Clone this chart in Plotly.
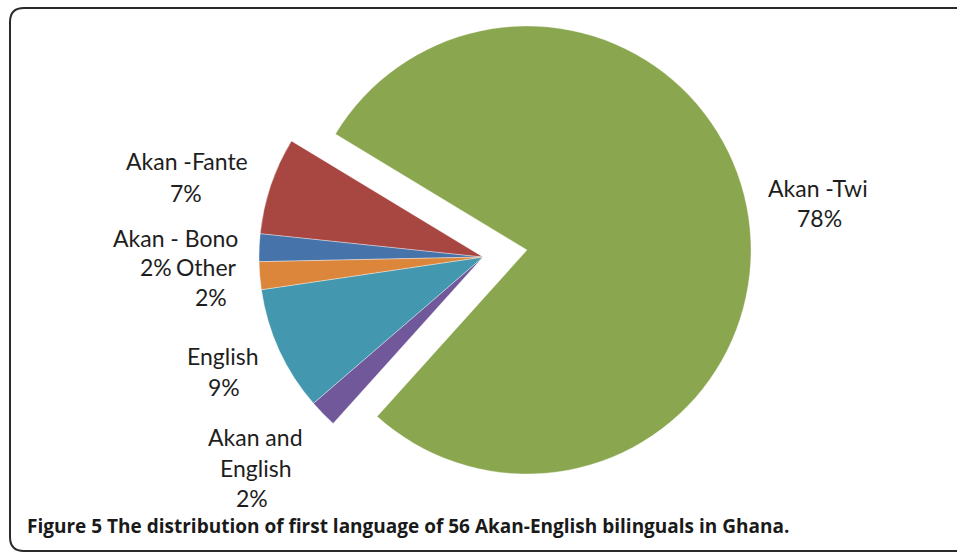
import plotly.graph_objects as go

# ---- data ----
categories = ["Akan - Bono", "Akan -Fante", "Akan -Twi", "Akan and English", "English", "Other"]
values = [2, 7, 78, 2, 9, 2]
colors = ["#4674AA", "#A84642", "#8AA64E", "#71589A", "#4398AF", "#DC863B"]
pulled = "Akan -Twi"

W, H = 957, 553
R = 224  # slice radius in px
ROT = -91.2  # first slice start (clockwise from 12 o'clock)


def px_dom(cx, cy, r):
    return dict(x=[(cx - r) / W, (cx + r) / W], y=[1 - (cy + r) / H, 1 - (cy - r) / H])


clear = "rgba(0,0,0,0)"
col_rest = [clear if c == pulled else col for c, col in zip(categories, colors)]
col_pull = [col if c == pulled else clear for c, col in zip(categories, colors)]
lw_rest = [0 if c == pulled else 0.6 for c in categories]
lw_pull = [0.6 if c == pulled else 0 for c in categories]

fig = go.Figure()
common = dict(labels=categories, values=values, sort=False, direction="clockwise",
              rotation=ROT, textinfo="none", showlegend=False, hoverinfo="label+percent")
fig.add_trace(go.Pie(**common, domain=px_dom(483, 257, R),
                     marker=dict(colors=col_rest, line=dict(color="rgba(255,255,255,0.6)", width=lw_rest))))
fig.add_trace(go.Pie(**common, domain=px_dom(527, 250, R),
                     marker=dict(colors=col_pull, line=dict(color="rgba(255,255,255,0.6)", width=lw_pull))))

# ---- labels ----
pct = {c: f"{v}%" for c, v in zip(categories, values)}
label_font = dict(family="Lato, Open Sans, sans-serif", size=23, color="#1e1e1e")


def ann(text, x, y):
    fig.add_annotation(text=text, x=x / W, y=1 - y / H, xref="paper", yref="paper",
                       showarrow=False, xanchor="center", yanchor="middle", font=label_font)


ann(categories[2], 818, 188)
ann(pct[categories[2]], 819, 218)
ann(categories[1], 187, 161)
ann(pct[categories[1]], 186, 193)
ann(categories[0], 175, 238)
ann(pct[categories[0]], 156, 267)
ann(categories[5], 206, 267)
ann(pct[categories[5]], 211, 297)
ann(categories[4], 223, 356)
ann(pct[categories[4]], 224, 387)
ann("Akan and", 255, 437)
ann("English", 256, 468)
ann(pct[categories[3]], 252, 498)

# ---- caption ----
fig.add_annotation(
    text="<b>Figure 5</b> <b>The distribution of first language of 56 Akan-English bilinguals in Ghana.</b>",
    x=25 / W, y=1 - 526 / H, xref="paper", yref="paper", showarrow=False,
    xanchor="left", yanchor="middle",
    font=dict(family="Open Sans, sans-serif", size=19, color="#1a1a1a"))

# ---- rounded frame ----
l, t, r_, b, rad = 10, 8, 975, 551, 14
def P(x, y):
    return f"{x / W:.5f},{1 - y / H:.5f}"
path = (f"M {P(l + rad, t)} L {P(r_, t)} L {P(r_, b)} L {P(l + rad, b)} "
        f"Q {P(l, b)} {P(l, b - rad)} L {P(l, t + rad)} Q {P(l, t)} {P(l + rad, t)} Z")
fig.add_shape(type="path", path=path, xref="paper", yref="paper",
              line=dict(color="#2a2a2a", width=2), fillcolor="rgba(0,0,0,0)")

fig.update_layout(width=W, height=H, margin=dict(l=0, r=0, t=0, b=0),
                  paper_bgcolor="white", plot_bgcolor="white")
fig.write_html("out.html")
